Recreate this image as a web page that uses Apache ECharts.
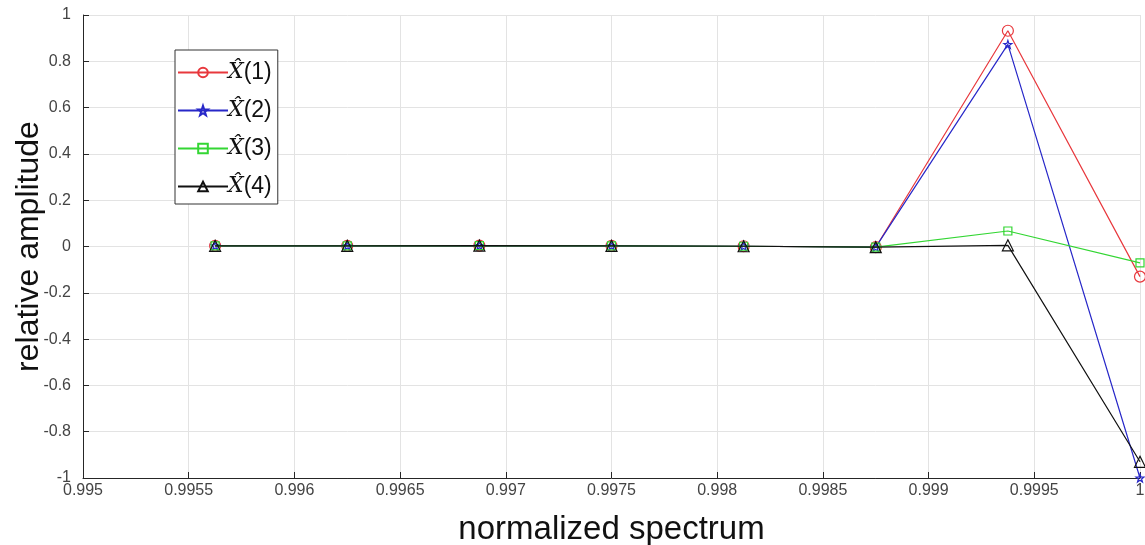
<!DOCTYPE html>
<html><head><meta charset="utf-8">
<script src="https://cdn.jsdelivr.net/npm/echarts@6/dist/echarts.min.js"></script>
<style>html,body{margin:0;padding:0;background:#fff}#c{width:1145px;height:545px}</style>
</head><body><div id="c"></div>
<script>
var xValues = [0.995625, 0.99625, 0.996875, 0.9975, 0.998125, 0.99875, 0.999375, 1.0];
var series1 = [0.003, 0.003, 0.004, 0.003, 0.001, -0.003, 0.932, -0.13];
var series2 = [0.003, 0.003, 0.004, 0.003, 0.001, -0.003, 0.873, -1.0];
var series3 = [0.003, 0.003, 0.004, 0.003, 0.001, -0.003, 0.067, -0.071];
var series4 = [0.003, 0.003, 0.004, 0.003, 0.001, -0.003, 0.005, -0.93];
var seriesNames = ['s1', 's2', 's3', 's4'];
var seriesLabels = ['(1)', '(2)', '(3)', '(4)'];
var xTicks = {min: 0.995, max: 1, interval: 0.0005};
var yTicks = {min: -1, max: 1, interval: 0.2};

var colors = ['#e8383d', '#2727c8', '#33d633', '#111111'];
var star = 'path://M0,-10 L2.35,-3.24 9.51,-3.09 3.8,1.24 5.88,8.09 0,4 -5.88,8.09 -3.8,1.24 -9.51,-3.09 -2.35,-3.24Z';
var symbols = ['circle', star, 'rect', 'triangle'];
var sizes = [11, 8, 8, 11];
var allData = [series1, series2, series3, series4];

function mk(i) {
  return {
    name: seriesNames[i], type: 'line',
    data: xValues.map(function (x, k) { return [x, allData[i][k]]; }),
    symbol: symbols[i], symbolSize: sizes[i], showSymbol: true,
    lineStyle: {color: colors[i], width: 1.2},
    itemStyle: {color: 'rgba(255,255,255,0)', borderColor: colors[i], borderWidth: 1.2},
    z: 2 + i, animation: false
  };
}
var chart = echarts.init(document.getElementById('c'));
chart.setOption({
  animation: false,
  grid: {left: 83, right: 5, top: 15, bottom: 67, show: false, containLabel: false, outerBoundsMode: 'none'},
  legend: {
    orient: 'vertical', left: 175, top: 50, data: seriesNames,
    backgroundColor: '#fff', borderColor: '#333', borderWidth: 1,
    padding: [11, 6, 6, 2], itemWidth: 50, itemHeight: 12, itemGap: 15,
    formatter: function (n) { var i = seriesNames.indexOf(n); return '{x|X\u0302}{n|' + seriesLabels[i] + '}'; },
    textStyle: {
      padding: [0, 0, 0, -5],
      rich: {
        x: {fontFamily: 'DejaVu Serif', fontStyle: 'italic', fontSize: 22, color: '#111'},
        n: {fontFamily: 'Liberation Sans', fontSize: 23, color: '#111'}
      }
    }
  },
  xAxis: {
    type: 'value', min: xTicks.min, max: xTicks.max, interval: xTicks.interval,
    name: 'normalized spectrum', nameLocation: 'middle', nameGap: 35, nameMoveOverlap: false,
    nameTextStyle: {fontFamily: 'Liberation Sans', fontSize: 33, color: '#111'},
    axisLine: {onZero: false, lineStyle: {color: '#262626', width: 1}},
    axisTick: {inside: true, length: 6, lineStyle: {color: '#262626'}},
    axisLabel: {fontFamily: 'Liberation Sans', fontSize: 16, color: '#444', margin: 5,
      formatter: function (v) { return String(parseFloat(v.toFixed(4))); }},
    splitLine: {show: true, lineStyle: {color: '#e3e3e3', width: 1}}
  },
  yAxis: {
    type: 'value', min: yTicks.min, max: yTicks.max, interval: yTicks.interval,
    name: 'relative amplitude', nameLocation: 'middle', nameGap: 38, nameMoveOverlap: false,
    nameTextStyle: {fontFamily: 'Liberation Sans', fontSize: 32, color: '#111'},
    axisLine: {show: true, lineStyle: {color: '#262626', width: 1}},
    axisTick: {show: true, inside: true, length: 6, lineStyle: {color: '#262626'}},
    axisLabel: {fontFamily: 'Liberation Sans', fontSize: 16, color: '#444', margin: 12,
      formatter: function (v) { return String(parseFloat(v.toFixed(1))); }},
    splitLine: {show: true, lineStyle: {color: '#e3e3e3', width: 1}}
  },
  series: [mk(0), mk(1), mk(2), mk(3)]
});
</script></body></html>
